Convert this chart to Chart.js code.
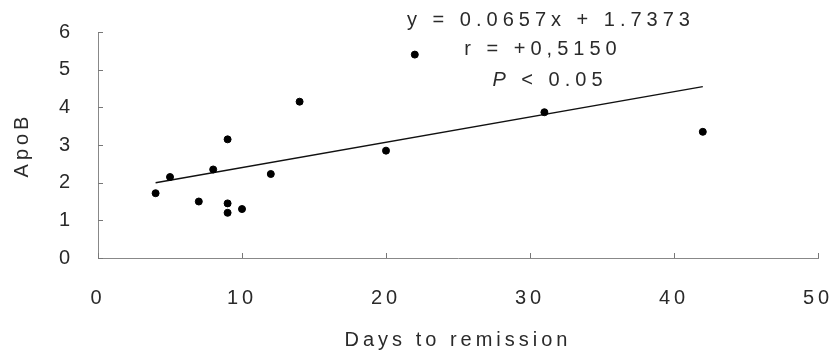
<!DOCTYPE html>
<html>
<head>
<meta charset="utf-8">
<script src="https://cdn.jsdelivr.net/npm/chart.js@4.4.1/dist/chart.umd.min.js"></script>
<style>
  html, body { margin: 0; padding: 0; background: #fff; }
  #wrap { width: 835px; height: 356px; }
</style>
</head>
<body>
<div id="wrap"><canvas id="c"></canvas></div>
<script>
// Data
const days = [4, 5, 7, 8, 9, 9, 9, 10, 12, 14, 20, 22, 31, 42];
const apoB = [1.72, 2.15, 1.5, 2.35, 3.15, 1.45, 1.2, 1.3, 2.23, 4.15, 2.85, 5.4, 3.87, 3.35];

// regression line ends, as drawn
const fitX = [4, 42];
const fitY = [2.0, 4.55];

const xTicks = [0, 10, 20, 30, 40, 50];
const yTicks = [0, 1, 2, 3, 4, 5, 6];

const statLines = ['y = 0.0657x + 1.7373', 'r = +0,5150', 'P < 0.05'];

const fontFamily = '"Liberation Sans", Arial, sans-serif';
const textColor = '#2a2a2a';

const points = days.map((d, i) => ({ x: d, y: apoB[i] }));
const fitLine = fitX.map((d, i) => ({ x: d, y: fitY[i] }));

// spaced-out lettering like the scan
const spacing = {
    id: 'spacing',
    beforeUpdate(chart) { chart.ctx.letterSpacing = '4px'; },
    beforeDraw(chart) { chart.ctx.letterSpacing = '4px'; }
};

// small tick marks drawn inside the plot, plus the stats text
const extras = {
    id: 'extras',
    afterDraw(chart) {
        const ctx = chart.ctx;
        const xs = chart.scales.x, ys = chart.scales.y;
        const area = chart.chartArea;
        ctx.save();
        ctx.strokeStyle = '#777';
        ctx.lineWidth = 1;
        ctx.beginPath();
        yTicks.forEach(v => {
            const py = Math.round(ys.getPixelForValue(v)) + 0.5;
            ctx.moveTo(area.left, py);
            ctx.lineTo(area.left + 5, py);
        });
        xTicks.forEach(v => {
            const px = Math.round(xs.getPixelForValue(v)) + 0.5;
            ctx.moveTo(px, area.bottom);
            ctx.lineTo(px, area.bottom - 5);
        });
        ctx.stroke();

        ctx.fillStyle = textColor;
        ctx.textAlign = 'center';
        ctx.textBaseline = 'middle';
        ctx.letterSpacing = '5px';
        ctx.font = '20px ' + fontFamily;
        ctx.fillText(statLines[0], 551, 20);
        ctx.fillText(statLines[1], 543, 49);
        // italic P, the rest upright
        const rest = statLines[2].slice(1);
        ctx.textAlign = 'left';
        ctx.font = 'italic 20px ' + fontFamily;
        const pw = ctx.measureText('P').width;
        ctx.font = '20px ' + fontFamily;
        const rw = ctx.measureText(rest).width;
        const startX = 550 - (pw + rw) / 2;
        ctx.font = 'italic 20px ' + fontFamily;
        ctx.fillText('P', startX, 80);
        ctx.font = '20px ' + fontFamily;
        ctx.fillText(rest, startX + pw, 80);
        ctx.restore();
    }
};

const ctx = document.getElementById('c').getContext('2d');
const chart = new Chart(ctx, {
    type: 'scatter',
    data: {
        datasets: [
            {
                label: 'ApoB',
                data: points,
                backgroundColor: '#000',
                borderColor: '#000',
                pointRadius: 3.5,
                pointHoverRadius: 3.5,
            },
            {
                label: 'fit',
                type: 'line',
                data: fitLine,
                borderColor: '#111',
                borderWidth: 1.5,
                pointRadius: 0,
                fill: false,
            },
        ],
    },
    options: {
        responsive: true,
        maintainAspectRatio: false,
        animation: false,
        layout: { padding: { top: 32, right: 17, left: 0, bottom: 0 } },
        plugins: {
            legend: { display: false },
            tooltip: { enabled: false }
        },
        scales: {
            x: {
                type: 'linear',
                min: 0,
                max: 50,
                afterBuildTicks(scale) { scale.ticks = xTicks.map(v => ({ value: v })); },
                afterFit(scale) {
                    scale.height = 98;
                    scale.paddingLeft = 0;
                    scale.paddingRight = 0;
                },
                ticks: {
                    color: textColor,
                    padding: 28,
                    font: { family: fontFamily, size: 20 },
                },
                grid: { display: true, drawOnChartArea: false, drawTicks: false },
                border: { display: true, color: '#888', width: 1, dash: [2, 1] },
                title: {
                    display: true,
                    text: 'Days to remission',
                    color: textColor,
                    font: { family: fontFamily, size: 20 },
                    padding: { top: 6, bottom: 4 },
                },
            },
            y: {
                min: 0,
                max: 6,
                afterBuildTicks(scale) { scale.ticks = yTicks.map(v => ({ value: v })); },
                afterFit(scale) {
                    scale.width = 98;
                    scale.paddingTop = 0;
                    scale.paddingBottom = 0;
                },
                ticks: {
                    color: textColor,
                    padding: 24,
                    font: { family: fontFamily, size: 20 },
                },
                grid: { display: true, drawOnChartArea: false, drawTicks: false },
                border: { display: true, color: '#888', width: 1, dash: [2, 1] },
                title: {
                    display: true,
                    text: 'ApoB',
                    color: textColor,
                    font: { family: fontFamily, size: 20 },
                    padding: { top: 10, bottom: 0 },
                },
            },
        },
    },
    plugins: [spacing, extras],
});
</script>
</body>
</html>
